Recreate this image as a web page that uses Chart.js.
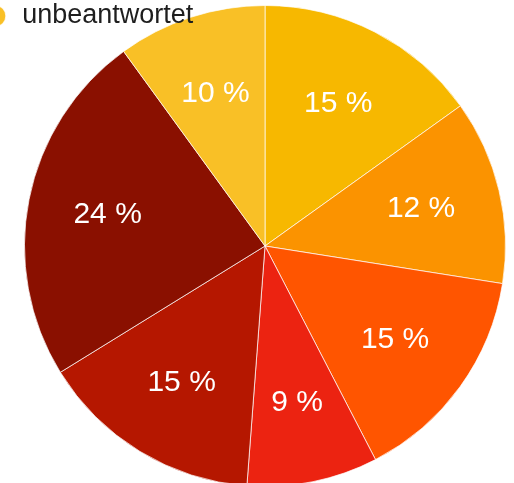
<!DOCTYPE html>
<html lang="de">
<head>
    <meta charset="UTF-8">
    <title>Umfrage</title>
    <script src="https://cdn.jsdelivr.net/npm/chart.js"></script>
    <style>
        html, body { margin: 0; padding: 0; background: #fff; overflow: hidden; }
        #wrap { position: relative; width: 514px; height: 483px; overflow: hidden; }
        #umfrageChart { position: absolute; left: -30px; top: 0; }
    </style>
</head>
<body>
    <div id="wrap">
        <canvas id="umfrageChart" width="590" height="492"></canvas>
    </div>

    <script>
        const labels = ['Antwort 1', 'Antwort 2', 'Antwort 3', 'Antwort 4', 'Antwort 5', 'Antwort 6', 'unbeantwortet'];
        const percents = [15.1, 12.4, 14.9, 8.8, 15.0, 23.8, 10.0];
        const colors = ['#F7B800', '#FB9300', '#FF5500', '#EC2311', '#B51700', '#8A1000', '#F9C026'];

        // percent labels in the slices, about 2/3 of the way out
        const sliceLabels = {
            id: 'sliceLabels',
            afterDatasetsDraw(chart) {
                const ctx = chart.ctx;
                const meta = chart.getDatasetMeta(0);
                ctx.save();
                ctx.fillStyle = '#fff';
                ctx.font = '30px "Liberation Sans", Arial, sans-serif';
                ctx.textAlign = 'center';
                ctx.textBaseline = 'middle';
                meta.data.forEach((arc, i) => {
                    const p = arc.getProps(['x', 'y', 'startAngle', 'endAngle', 'outerRadius'], true);
                    const mid = (p.startAngle + p.endAngle) / 2;
                    const r = p.outerRadius * 0.667;
                    ctx.fillText(Math.round(percents[i]) + ' %', p.x + Math.cos(mid) * r, p.y + Math.sin(mid) * r);
                });
                ctx.restore();
            }
        };

        // legend sits in the chart area; draw it above the slices
        const legendOnTop = {
            id: 'legendOnTop',
            beforeUpdate(chart) {
                const legend = chart.legend;
                if (legend) {
                    legend._layers = () => [{ z: 1, draw: (area) => legend.draw(area) }];
                }
            }
        };

        const ctx = document.getElementById('umfrageChart').getContext('2d');
        const chart = new Chart(ctx, {
            type: 'pie',
            data: {
                labels: labels,
                datasets: [{
                    data: percents,
                    backgroundColor: colors,
                    borderColor: 'rgba(255,255,255,0.7)',
                    borderWidth: 1
                }]
            },
            options: {
                responsive: false,
                animation: false,
                devicePixelRatio: 1,
                layout: { padding: { left: 9.2, right: 9.2, top: 5, bottom: 5 } },
                plugins: {
                    tooltip: { enabled: false },
                    legend: {
                        position: 'chartArea',
                        align: 'start',
                        labels: {
                            usePointStyle: true,
                            pointStyle: 'circle',
                            boxWidth: 27,
                            boxHeight: 15,
                            padding: 2.5,
                            color: '#1e1e1e',
                            font: { size: 27, family: '"Liberation Sans", Arial, sans-serif' },
                            filter: item => item.text === 'unbeantwortet'
                        }
                    }
                }
            },
            plugins: [sliceLabels, legendOnTop]
        });
    </script>
</body>
</html>
